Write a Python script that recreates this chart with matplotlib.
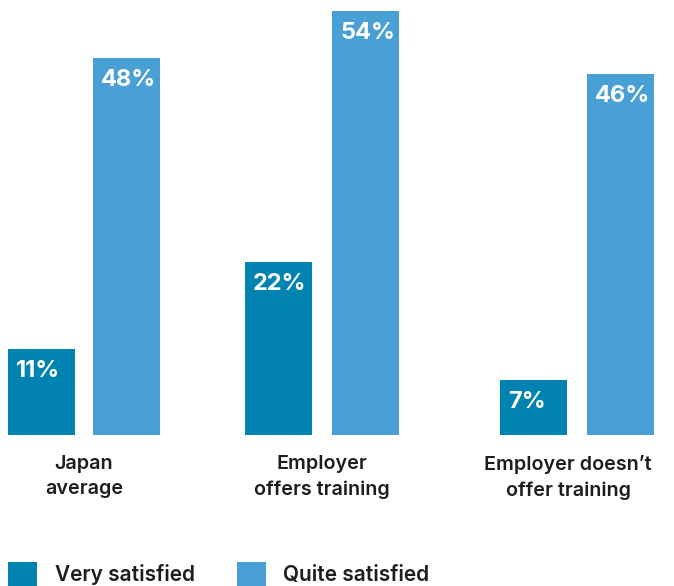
import matplotlib.pyplot as plt

# Data
categories = ['Japan\naverage', 'Employer\noffers training', 'Employer doesn\u2019t\noffer training']
very_satisfied = [11, 22, 7]
quite_satisfied = [48, 54, 46]
series_names = ['Very satisfied', 'Quite satisfied']

# Layout (pixel-like x units, figure is 674 px wide)
dark_x = [41.5, 278.5, 533.5]
light_x = [126.5, 365.5, 620.5]
label_x = [84, 322, 568]
BAR_W = 67

DARK = '#0083B0'
LIGHT = '#48A0D4'
TEXT = '#1d1d1d'

plt.rcParams['font.family'] = ['Inter', 'DejaVu Sans']

fig = plt.figure(figsize=(6.74, 5.86), dpi=100)
ax = fig.add_axes([0, 151 / 586, 1, 435 / 586])
ax.set_xlim(0, 674)
ax.set_ylim(0, 435 / 7.85)
ax.axis('off')

bars_dark = ax.bar(dark_x, very_satisfied, width=BAR_W, color=DARK, label=series_names[0])
bars_light = ax.bar(light_x, quite_satisfied, width=BAR_W, color=LIGHT, label=series_names[1])

# Value labels inside the bars, top-left corner
for bars, vals in ((bars_dark, very_satisfied), (bars_light, quite_satisfied)):
    for b, v in zip(bars, vals):
        ax.annotate(f'{v}%', xy=(b.get_x(), v), xytext=(8, -11),
                    textcoords='offset pixels', ha='left', va='top',
                    color='white', fontsize=17, fontweight='bold')

# Category labels under the groups
for x, lab in zip(label_x, categories):
    ax.annotate(lab, xy=(x, 0), xytext=(0, -20), textcoords='offset pixels',
                ha='center', va='top', color=TEXT, fontsize=14.2,
                fontweight='semibold', linespacing=1.5)

fig.legend(handles=[bars_dark, bars_light], labels=series_names,
           loc='lower left', bbox_to_anchor=(8 / 674, 0), ncol=2,
           frameon=False, handlelength=1.4, handleheight=1.4,
           handletextpad=0.85, columnspacing=2.0, borderpad=0, borderaxespad=0,
           prop={'weight': 'semibold', 'size': 15})
for t in fig.legends[0].get_texts():
    t.set_color(TEXT)

fig.savefig('out.png', dpi=100)
